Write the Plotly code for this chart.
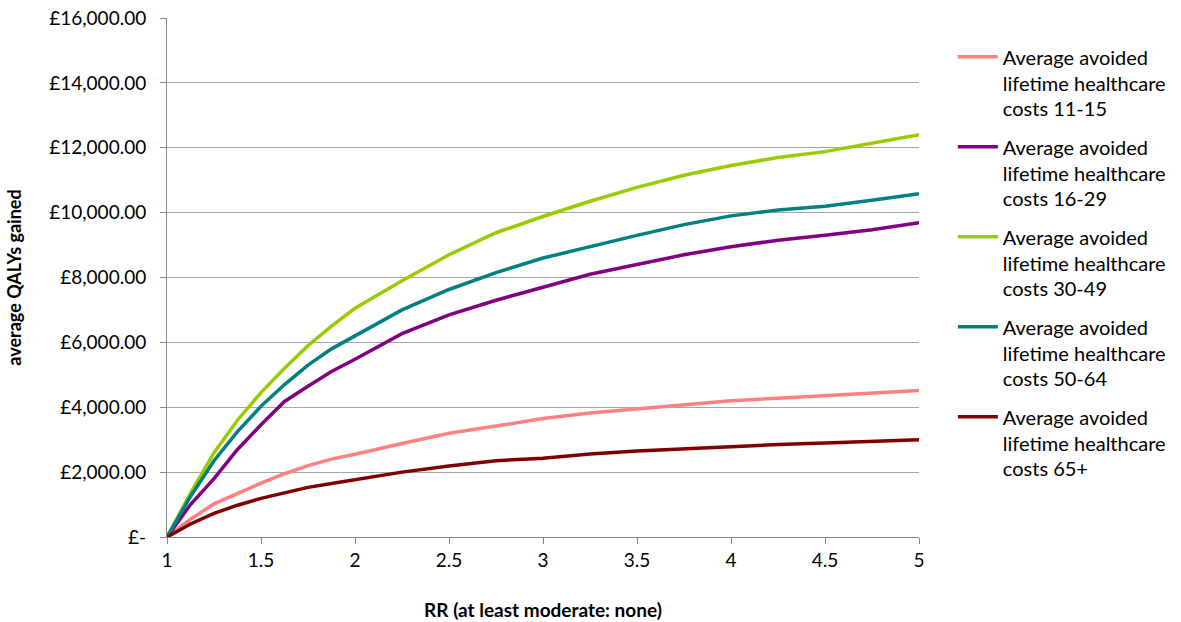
import plotly.graph_objects as go

rr = [1, 1.125, 1.25, 1.375, 1.5, 1.625, 1.75, 1.875, 2, 2.25, 2.5, 2.75, 3, 3.25, 3.5, 3.75, 4, 4.25, 4.5, 4.75, 5]

costs_11_15 = [0, 550, 1020, 1350, 1660, 1950, 2200, 2400, 2550, 2880, 3200, 3420, 3650, 3820, 3950, 4080, 4200, 4280, 4360, 4440, 4520]
costs_16_29 = [0, 1000, 1800, 2700, 3460, 4180, 4650, 5100, 5480, 6270, 6850, 7300, 7700, 8100, 8400, 8700, 8950, 9150, 9300, 9470, 9690]
costs_30_49 = [0, 1350, 2600, 3600, 4450, 5200, 5900, 6500, 7050, 7900, 8700, 9380, 9880, 10350, 10780, 11150, 11450, 11700, 11880, 12130, 12400]
costs_50_64 = [0, 1250, 2350, 3250, 4030, 4700, 5300, 5800, 6200, 7000, 7630, 8150, 8600, 8960, 9300, 9630, 9900, 10080, 10200, 10380, 10580]
costs_65p = [0, 400, 730, 980, 1190, 1370, 1530, 1650, 1760, 2000, 2190, 2350, 2430, 2560, 2650, 2720, 2780, 2850, 2900, 2950, 3000]

series_names = [
    "Average avoided<br>lifetime healthcare<br>costs 11-15",
    "Average avoided<br>lifetime healthcare<br>costs 16-29",
    "Average avoided<br>lifetime healthcare<br>costs 30-49",
    "Average avoided<br>lifetime healthcare<br>costs 50-64",
    "Average avoided<br>lifetime healthcare<br>costs 65+",
]
series_values = [costs_11_15, costs_16_29, costs_30_49, costs_50_64, costs_65p]
colors = ["#FF8080", "#800080", "#99CC00", "#008080", "#800000"]

y_tickvals = [0, 2000, 4000, 6000, 8000, 10000, 12000, 14000, 16000]
y_ticktext = ["£-", "£2,000.00", "£4,000.00", "£6,000.00", "£8,000.00",
              "£10,000.00", "£12,000.00", "£14,000.00", "£16,000.00"]
x_tickvals = [1, 1.5, 2, 2.5, 3, 3.5, 4, 4.5, 5]
x_ticktext = ["1", "1.5", "2", "2.5", "3", "3.5", "4", "4.5", "5"]

fig = go.Figure()
for i, (name, vals, c) in enumerate(zip(series_names, series_values, colors)):
    fig.add_trace(go.Scatter(x=rr, y=vals, mode="lines", name=name,
                             legendgroup=f"g{i}",
                             line=dict(color=c, width=3.5)))

FONT = "Lato, 'Open Sans', sans-serif"
fig.update_layout(
    width=1181, height=622,
    margin=dict(l=167, r=262, t=18, b=85, autoexpand=False),
    paper_bgcolor="white", plot_bgcolor="white",
    font=dict(family=FONT, size=19, color="black"),
    showlegend=True,
    legend=dict(x=1.045, y=0.963, xanchor="left", yanchor="top",
                font=dict(size=20, family=FONT), valign="top",
                tracegroupgap=9, itemwidth=40, bgcolor="rgba(0,0,0,0)"),
    xaxis=dict(range=[1, 5], tickvals=x_tickvals, ticktext=x_ticktext,
               showgrid=False, zeroline=False, showline=True, automargin=False,
               linecolor="#868686", linewidth=1, ticks="outside", ticklen=6,
               tickcolor="#868686", tickfont=dict(size=19),
               title=dict(text="<b>RR (at least moderate: none)</b>",
                          font=dict(size=19), standoff=33)),
    yaxis=dict(range=[0, 16000], tickvals=y_tickvals, ticktext=y_ticktext,
               showgrid=True, gridcolor="#A6A6A6", gridwidth=1, automargin=False,
               zeroline=False, showline=True, linecolor="#868686", linewidth=1,
               ticks="outside", ticklen=6, tickcolor="#868686",
               tickfont=dict(size=19), ticklabelstandoff=10,
               title=dict(text="<b>average QALYs gained</b>",
                          font=dict(size=18), standoff=22)),
)

fig.write_html("out.html")
